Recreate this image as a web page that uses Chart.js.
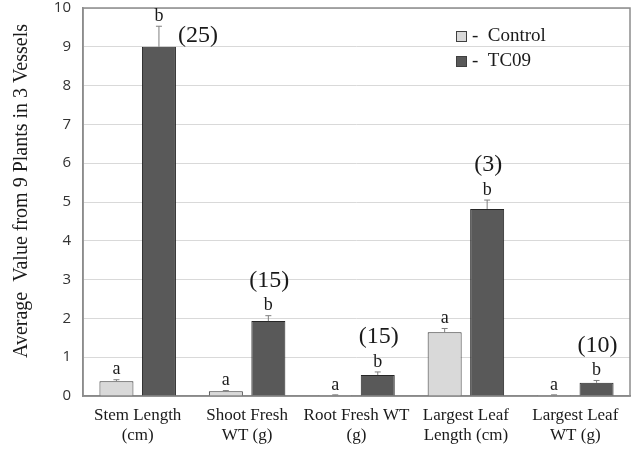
<!DOCTYPE html>
<html>
<head>
<meta charset="utf-8">
<script src="https://cdn.jsdelivr.net/npm/chart.js@4.4.1/dist/chart.umd.min.js"></script>
<style>
  html, body { margin: 0; padding: 0; background: #ffffff; }
  #wrap { width: 633px; height: 450px; }
</style>
</head>
<body>
<div id="wrap"><canvas id="c" width="633" height="450"></canvas></div>
<script>
const categories = [["Stem Length", "(cm)"], ["Shoot Fresh", "WT (g)"], ["Root Fresh WT", "(g)"], ["Largest Leaf", "Length (cm)"], ["Largest Leaf", "WT (g)"]];
const seriesNames = ["Control", "TC09"];
const controlValues = [0.38, 0.12, 0.02, 1.64, 0.02];
const tc09Values = [9.0, 1.93, 0.54, 4.82, 0.34];
const controlErrors = [0.04, 0.02, 0.01, 0.10, 0.01];
const tc09Errors = [0.53, 0.14, 0.08, 0.23, 0.06];
const controlLetters = ["a", "a", "a", "a", "a"];
const tc09Letters = ["b", "b", "b", "b", "b"];
const sampleCounts = ["(25)", "(15)", "(15)", "(3)", "(10)"];
const yTickValues = [0, 1, 2, 3, 4, 5, 6, 7, 8, 9, 10];
const yAxisTitle = "Average  Value from 9 Plants in 3 Vessels";

const SERIF = '"Liberation Serif", "Times New Roman", serif';
const SANS = '"Open Sans", "Liberation Sans", sans-serif';
const errorsBySeries = [controlErrors, tc09Errors];
const lettersBySeries = [controlLetters, tc09Letters];
const fills = ["#d9d9d9", "#595959"];

const annotPlugin = {
  id: "annot",
  beforeDatasetsDraw(chart) {
    const ctx = chart.ctx;
    const a = chart.chartArea;
    ctx.save();
    ctx.strokeStyle = "#8c8c8c";
    ctx.lineWidth = 1.5;
    ctx.strokeRect(a.left, a.top, a.right - a.left, a.bottom - a.top);
    // y axis title
    ctx.translate(22, 191);
    ctx.rotate(-Math.PI / 2);
    ctx.fillStyle = "#1a1a1a";
    ctx.font = "20px " + SERIF;
    ctx.textAlign = "center";
    ctx.textBaseline = "middle";
    ctx.fillText(yAxisTitle, 0, 0);
    ctx.restore();
  },
  afterDatasetsDraw(chart) {
    const ctx = chart.ctx;
    const ys = chart.scales.y;
    ctx.save();
    chart.data.datasets.forEach((ds, di) => {
      const meta = chart.getDatasetMeta(di);
      meta.data.forEach((el, i) => {
        const v = ds.data[i];
        const top = ys.getPixelForValue(v + errorsBySeries[di][i]);
        ctx.strokeStyle = "#7f7f7f";
        ctx.lineWidth = 1;
        ctx.beginPath();
        ctx.moveTo(el.x, el.y);
        ctx.lineTo(el.x, top);
        ctx.moveTo(el.x - 3, top);
        ctx.lineTo(el.x + 3, top);
        ctx.stroke();
        ctx.fillStyle = "#1a1a1a";
        ctx.textAlign = "center";
        ctx.textBaseline = "middle";
        ctx.font = "18px " + SERIF;
        const ly = top - 10;
        ctx.fillText(lettersBySeries[di][i], el.x, ly);
        if (di === 1) {
          ctx.font = "24px " + SERIF;
          if (i === 0) {
            ctx.fillText(sampleCounts[i], el.x + 39, top + 9);
          } else {
            ctx.fillText(sampleCounts[i], el.x + 1, ly - 25);
          }
        }
      });
    });
    // legend
    const a = chart.chartArea;
    const lx = a.left + 373;
    const ly0 = a.top + 23;
    chart.data.datasets.forEach((ds, di) => {
      const y = ly0 + di * 25;
      ctx.fillStyle = ds.backgroundColor;
      ctx.fillRect(lx, y, 10, 10);
      ctx.strokeStyle = "#404040";
      ctx.lineWidth = 1;
      ctx.strokeRect(lx + 0.5, y + 0.5, 10, 10);
      ctx.fillStyle = "#1a1a1a";
      ctx.font = "19px " + SERIF;
      ctx.textAlign = "left";
      ctx.textBaseline = "middle";
      ctx.fillText("-  " + ds.label, lx + 16, y + 5);
    });
    ctx.restore();
  }
};

new Chart(document.getElementById("c"), {
  type: "bar",
  data: {
    labels: categories,
    datasets: [
      { label: seriesNames[0], data: controlValues, backgroundColor: fills[0], borderColor: "#333333", borderWidth: 1 },
      { label: seriesNames[1], data: tc09Values, backgroundColor: fills[1], borderColor: "#262626", borderWidth: 1 }
    ]
  },
  options: {
    responsive: false,
    animation: false,
    devicePixelRatio: 1,
    categoryPercentage: 0.777,
    barPercentage: 0.8,
    layout: { padding: { top: 8, right: 3, left: 0, bottom: 0 } },
    plugins: { legend: { display: false }, tooltip: { enabled: false } },
    scales: {
      x: {
        grid: { display: false, drawTicks: false },
        border: { display: true, color: "#7f7f7f", width: 1.5 },
        ticks: { color: "#1a1a1a", font: { family: SERIF, size: 17, lineHeight: 1.15 }, padding: 10, maxRotation: 0, autoSkip: false },
        afterFit(s) { s.height = 54; s.paddingLeft = 0; s.paddingRight = 0; }
      },
      y: {
        min: 0, max: 10,
        afterBuildTicks(s) { s.ticks = yTickValues.map(v => ({ value: v })); },
        grid: { color: "#d9d9d9", drawTicks: false },
        border: { display: true, color: "#8c8c8c", width: 1.5 },
        ticks: { color: "#333333", font: { family: SANS, size: 15 }, padding: 12 },
        afterFit(s) { s.width = 83; s.paddingTop = 0; s.paddingBottom = 0; }
      }
    }
  },
  plugins: [annotPlugin]
});
</script>
</body>
</html>
